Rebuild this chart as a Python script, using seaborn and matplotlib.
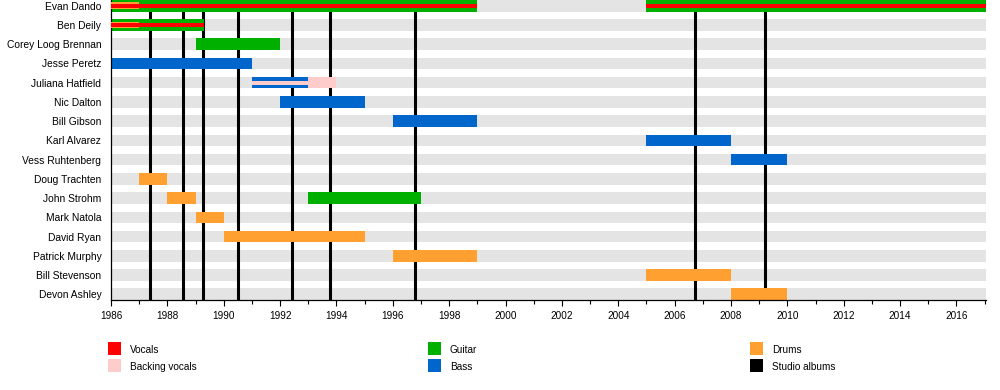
import matplotlib
matplotlib.use("Agg")
import matplotlib.pyplot as plt
from matplotlib.patches import Rectangle
import seaborn as sns
import pandas as pd

# ---------------- data ----------------
members = ["Evan Dando", "Ben Deily", "Corey Loog Brennan", "Jesse Peretz",
           "Juliana Hatfield", "Nic Dalton", "Bill Gibson", "Karl Alvarez",
           "Vess Ruhtenberg", "Doug Trachten", "John Strohm", "Mark Natola",
           "David Ryan", "Patrick Murphy", "Bill Stevenson", "Devon Ashley"]

START_YEAR = 1986
END_YEAR = 2017.05

guitar_member = ["Evan Dando", "Evan Dando", "Ben Deily", "Corey Loog Brennan", "John Strohm"]
guitar_start = [1986, 2005, 1986, 1989, 1993]
guitar_end = [1999, END_YEAR, 1989.3, 1992, 1997]

bass_member = ["Jesse Peretz", "Juliana Hatfield", "Nic Dalton", "Bill Gibson",
               "Karl Alvarez", "Vess Ruhtenberg"]
bass_start = [1986, 1991, 1992, 1996, 2005, 2008]
bass_end = [1991, 1993, 1995, 1999, 2008, 2010]

drums_member = ["Doug Trachten", "John Strohm", "Mark Natola", "David Ryan",
                "Patrick Murphy", "Bill Stevenson", "Devon Ashley"]
drums_start = [1987, 1988, 1989, 1990, 1996, 2005, 2008]
drums_end = [1988, 1989, 1990, 1995, 1999, 2008, 2010]

drums2_member = ["Evan Dando", "Ben Deily"]
drums2_start = [1986, 1986]
drums2_end = [1987, 1987]

vocals_member = ["Evan Dando", "Evan Dando", "Ben Deily"]
vocals_start = [1986, 2005, 1986]
vocals_end = [1999, END_YEAR, 1989.3]

bvocals_member = ["Juliana Hatfield"]
bvocals_start = [1993]
bvocals_end = [1994]

bvocals2_member = ["Juliana Hatfield"]
bvocals2_start = [1991]
bvocals2_end = [1993]

albums = [1987.4, 1988.55, 1989.25, 1990.5, 1992.42, 1993.78, 1996.78, 2006.74, 2009.22]

# ---------------- style ----------------
C_VOC = "#ff0000"
C_BVOC = "#ffcccc"
C_GTR = "#00b000"
C_BASS = "#0066cc"
C_DRUM = "#ffa030"
C_ALB = "#000000"
C_BG = "#e4e4e4"

sns.set_theme(style="ticks")
plt.rcParams["font.family"] = ["Liberation Sans", "DejaVu Sans"]
FS = 7.2
FSY = 7.4

fig = plt.figure(figsize=(10, 3.9), dpi=100)
ax = fig.add_axes([0.111, 90 / 390, 0.875, 300 / 390])

H = 0.6
bg = pd.DataFrame({"member": members, "end": [END_YEAR] * len(members)})
sns.barplot(data=bg, x="end", y="member", orient="h", color=C_BG, width=H,
            saturation=1, errorbar=None, ax=ax, zorder=0.5, linewidth=0)

pos = {m: i for i, m in enumerate(members)}

for a in albums:
    ax.axvline(a, color=C_ALB, lw=2.2, zorder=1)


def spans(mem, st, en, color, frac, z):
    ax.barh([pos[m] for m in mem], [e - s for s, e in zip(st, en)], left=st,
            height=H * frac, color=color, zorder=z, linewidth=0)


spans(guitar_member, guitar_start, guitar_end, C_GTR, 1.0, 2)
spans(bass_member, bass_start, bass_end, C_BASS, 1.0, 2)
spans(drums_member, drums_start, drums_end, C_DRUM, 1.0, 2)
spans(bvocals_member, bvocals_start, bvocals_end, C_BVOC, 1.0, 2)
spans(drums2_member, drums2_start, drums2_end, C_DRUM, 0.6, 3)
spans(vocals_member, vocals_start, vocals_end, C_VOC, 0.32, 4)
spans(bvocals2_member, bvocals2_start, bvocals2_end, C_BVOC, 0.36, 4)

ax.set_xlim(START_YEAR, END_YEAR)
ax.set_ylim(len(members) - 0.7, -0.3)
ax.set_xlabel("")
ax.set_ylabel("")
ax.set_xticks(list(range(1986, 2017, 2)))
ax.set_xticks(list(range(1986, 2018)), minor=True)
ax.set_xticklabels([str(y) for y in range(1986, 2017, 2)])
ax.tick_params(axis="x", which="major", length=4, width=0.8, color="black",
               labelsize=FS, pad=4, labelcolor="black")
ax.tick_params(axis="x", which="minor", length=3, width=0.8, color="black")
ax.tick_params(axis="y", left=False, length=0, labelsize=FSY, pad=7, labelcolor="black")
sns.despine(ax=ax)
for s in ["left", "bottom"]:
    ax.spines[s].set_color("black")
    ax.spines[s].set_linewidth(0.9)
ax.set_facecolor("white")

# ---------------- legend ----------------
legend_items = [
    (108, 342.3, C_VOC, "Vocals"), (108, 359.3, C_BVOC, "Backing vocals"),
    (428, 342.3, C_GTR, "Guitar"), (428, 359.3, C_BASS, "Bass"),
    (750, 342.3, C_DRUM, "Drums"), (750, 359.3, C_ALB, "Studio albums"),
]
W = 1000.0
HH = 390.0
for x0, y0, col, lab in legend_items:
    fig.add_artist(Rectangle((x0 / W, 1 - (y0 + 12.4) / HH), 12.6 / W, 12.4 / HH,
                             transform=fig.transFigure, color=col, linewidth=0))
    fig.text((x0 + 22) / W, 1 - (y0 + 7.5) / HH, lab, fontsize=FS, va="center",
             ha="left", color="black")

fig.savefig("out.png", dpi=100)
